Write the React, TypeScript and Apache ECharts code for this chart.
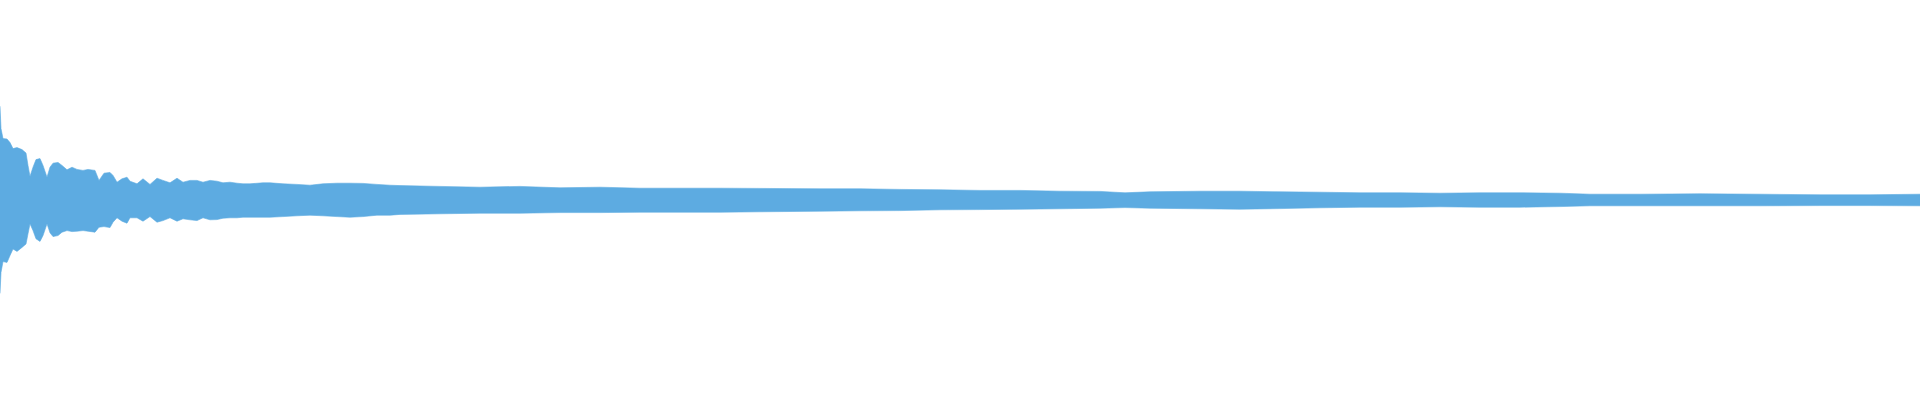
import React, { useEffect, useRef } from "react";
import * as echarts from "echarts";

// horizontal position of each envelope reading (waveform bins, 0..1920)
const position = [
  0, 1, 3, 7, 10, 13, 17, 22, 26, 28, 30, 33, 36, 40, 43, 47, 50, 53, 58, 62, 67, 72, 77, 83, 88, 95,
  99, 104, 110, 113, 117, 122, 127, 130, 137, 143, 150, 157, 163, 170, 177, 183, 190, 197, 203, 210,
  217, 223, 230, 237, 243, 250, 263, 270, 283, 297, 310, 323, 337, 350, 363, 377, 390, 400, 440, 480,
  520, 560, 600, 640, 680, 720, 760, 820, 860, 900, 940, 980, 1020, 1060, 1100, 1125, 1150, 1200, 1240,
  1280, 1320, 1360, 1400, 1440, 1480, 1520, 1560, 1590, 1640, 1700, 1760, 1820, 1870, 1920,
];

// positive peak amplitude of each bin
const upperPeak = [
  0.469, 0.357, 0.307, 0.305, 0.287, 0.257, 0.262, 0.252, 0.235, 0.173, 0.118, 0.164, 0.202, 0.207,
  0.173, 0.114, 0.164, 0.184, 0.188, 0.173, 0.151, 0.164, 0.153, 0.148, 0.153, 0.148, 0.098, 0.134,
  0.138, 0.123, 0.089, 0.106, 0.114, 0.094, 0.081, 0.106, 0.078, 0.109, 0.098, 0.086, 0.109, 0.089,
  0.098, 0.098, 0.089, 0.098, 0.094, 0.086, 0.089, 0.084, 0.081, 0.081, 0.086, 0.086, 0.081, 0.078,
  0.074, 0.081, 0.084, 0.084, 0.083, 0.078, 0.074, 0.072, 0.068, 0.064, 0.068, 0.061, 0.064, 0.059,
  0.059, 0.059, 0.058, 0.056, 0.056, 0.053, 0.051, 0.048, 0.048, 0.044, 0.043, 0.036, 0.041, 0.044,
  0.044, 0.041, 0.039, 0.036, 0.036, 0.034, 0.036, 0.036, 0.034, 0.029, 0.029, 0.031, 0.029, 0.026,
  0.026, 0.029,
];

// negative peak amplitude of each bin
const lowerPeak = [
  -0.467, -0.362, -0.308, -0.312, -0.278, -0.245, -0.257, -0.237, -0.22, -0.169, -0.119, -0.153,
  -0.194, -0.207, -0.178, -0.119, -0.164, -0.183, -0.178, -0.161, -0.153, -0.158, -0.156, -0.153,
  -0.156, -0.161, -0.136, -0.133, -0.138, -0.111, -0.089, -0.106, -0.116, -0.089, -0.089, -0.106,
  -0.083, -0.111, -0.103, -0.089, -0.106, -0.094, -0.099, -0.103, -0.089, -0.099, -0.098, -0.091,
  -0.089, -0.089, -0.086, -0.086, -0.086, -0.086, -0.083, -0.079, -0.076, -0.079, -0.083, -0.086,
  -0.083, -0.076, -0.076, -0.072, -0.069, -0.066, -0.066, -0.063, -0.063, -0.061, -0.061, -0.061,
  -0.059, -0.056, -0.054, -0.053, -0.049, -0.048, -0.046, -0.044, -0.041, -0.038, -0.041, -0.044,
  -0.046, -0.043, -0.039, -0.036, -0.036, -0.034, -0.036, -0.036, -0.033, -0.029, -0.029, -0.029,
  -0.029, -0.028, -0.028, -0.029,
];

const WAVE_COLOR = "#5dabe1";

export default function App() {
  const ref = useRef<HTMLDivElement>(null);

  useEffect(() => {
    if (!ref.current) return;
    const chart = echarts.init(ref.current, undefined, { renderer: "svg" });
    const mk = (name: string, vals: number[], origin: number) => ({
      name,
      type: "line",
      data: position.map((p, i) => [p, vals[i]]),
      showSymbol: false,
      symbol: "none",
      lineStyle: { width: 0.6, color: WAVE_COLOR },
      areaStyle: { color: WAVE_COLOR, opacity: 1, origin },
      silent: true,
    });
    chart.setOption({
      animation: false,
      backgroundColor: "#ffffff",
      grid: { left: 0, right: 0, top: 0, bottom: 0, containLabel: false },
      xAxis: { type: "value", min: 0, max: 1920, show: false },
      yAxis: { type: "value", min: -1, max: 1, show: false },
      // the two halves overlap slightly across the zero line so no seam shows
      series: [mk("upper", upperPeak, -0.01), mk("lower", lowerPeak, 0.01)],
    });
    return () => chart.dispose();
  }, []);

  return (
    <div
      ref={ref}
      style={{ position: "fixed", left: 0, top: 0, width: 1920, height: 400, background: "#fff" }}
    />
  );
}
